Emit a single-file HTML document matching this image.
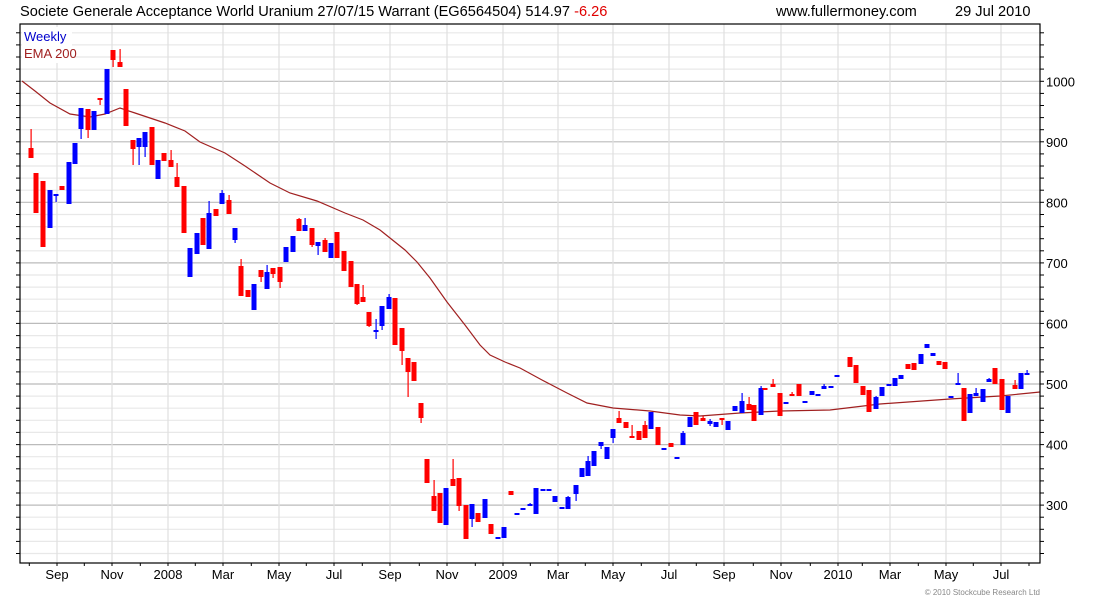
<!DOCTYPE html>
<html><head><meta charset="utf-8"><style>
body{margin:0;background:#fff;width:1100px;height:600px;overflow:hidden;font-family:"Liberation Sans",sans-serif}
</style></head><body>
<svg id="s" width="1100" height="600" xmlns="http://www.w3.org/2000/svg" font-family="Liberation Sans, sans-serif">
<text x="20" y="16" font-size="14.6" fill="#000">Societe Generale Acceptance World Uranium 27/07/15 Warrant (EG6564504) 514.97 <tspan fill="#e00000">-6.26</tspan></text>
<text x="776" y="16" font-size="14.6" fill="#000">www.fullermoney.com</text>
<text x="955" y="16" font-size="14.6" fill="#000">29 Jul 2010</text>
<text x="1040" y="595" font-size="8" fill="#888" text-anchor="end">© 2010 Stockcube Research Ltd</text>
<g id="g"></g>
</svg>
<script>
var g=document.getElementById('g'),h='';
function Y(v){return 384-(v-500)*0.6055;}
var L=20,R=1040,T=24,B=563;
for(var v=220;v<=1080;v+=20){var y=Y(v);if(y<T||y>B)continue;var maj=v%100==0;
h+='<line x1="'+L+'" x2="'+R+'" y1="'+y.toFixed(1)+'" y2="'+y.toFixed(1)+'" stroke="'+(maj?'#bbb':'#e8e8e8')+'" stroke-width="1.2"/>';
h+='<line x1="'+R+'" x2="'+(R+4)+'" y1="'+y.toFixed(1)+'" y2="'+y.toFixed(1)+'" stroke="#000"/>';
h+='<line x1="'+(L-4)+'" x2="'+L+'" y1="'+y.toFixed(1)+'" y2="'+y.toFixed(1)+'" stroke="#000"/>';
if(maj)h+='<text x="'+(R+6)+'" y="'+(y+5)+'" font-size="13">'+v+'</text>';}
var mx=[57,112,168,223,279,334,390,447,503,558,613,669,724,781,838,890,946,1001],ml=['Sep','Nov','2008','Mar','May','Jul','Sep','Nov','2009','Mar','May','Jul','Sep','Nov','2010','Mar','May','Jul'];
for(var i=0;i<mx.length;i++){h+='<line x1="'+mx[i]+'" x2="'+mx[i]+'" y1="'+T+'" y2="'+B+'" stroke="#e0e0e0" stroke-width="1.2"/>';
h+='<line x1="'+mx[i]+'" x2="'+mx[i]+'" y1="'+B+'" y2="'+(B+3)+'" stroke="#000"/>';
h+='<text x="'+mx[i]+'" y="'+(B+16)+'" font-size="13" text-anchor="middle">'+ml[i]+'</text>';
var m=mx[i]-27.7;if(m>L)h+='<line x1="'+m+'" x2="'+m+'" y1="'+B+'" y2="'+(B+3)+'" stroke="#000"/>';}
h+='<line x1="1029" x2="1029" y1="'+B+'" y2="'+(B+3)+'" stroke="#000"/>';
var e=[[22,81],[35,91],[50,103],[70,114],[90,117],[105,114],[120,108],[135,113],[150,118],[165,123],[185,131],[200,142],[225,153],[245,166],[270,183],[290,193],[317,201],[345,213],[363,220],[380,230],[390,238],[405,250],[417,262],[430,278],[447,302],[465,325],[480,345],[490,355],[505,362],[520,368],[542,380],[567,393],[587,403],[613,408],[650,411],[680,415],[700,416],[740,413],[780,411],[830,410],[880,404],[950,399],[1000,396],[1030,393],[1040,392]];
h+='<polyline fill="none" stroke="#a02020" stroke-width="1.2" points="'+e.map(function(p){return p.join(',')}).join(' ')+'"/>';
var c="31,148,158,129,0,r;36,173,213,0,0,r;43,181,247,0,0,r;50,190,228,0,0,b;56,194,196,0,202,b;62,186,190,0,0,r;69,162,204,0,0,b;75,143,164,0,0,b;81,108,129,0,139,b;88,109,130,0,138,r;94,111,130,0,0,b;100,98,100,0,105,r;107,69,114,0,0,b;113,50,60,0,67,r;120,62,67,49,0,r;126,89,126,0,0,r;133,140,149,0,165,r;139,138,147,0,165,b;145,132,147,0,157,b;152,127,165,0,0,r;158,160,179,0,0,b;164,153,161,0,0,r;171,160,167,150,0,r;177,177,187,163,0,r;184,186,233,0,0,r;190,248,277,0,0,b;197,233,254,0,0,b;203,218,245,0,0,r;209,213,249,201,0,b;216,209,216,0,0,r;222,193,204,190,0,b;229,200,214,195,0,r;235,228,240,0,243,b;241,266,296,259,0,r;248,290,297,0,0,r;254,284,310,0,0,b;261,270,277,0,282,r;267,272,289,265,0,b;273,268,274,0,278,r;280,267,282,0,288,r;286,247,262,0,0,b;293,236,252,0,0,b;299,219,231,218,0,r;305,225,231,218,0,b;312,228,245,0,247,r;318,242,246,0,255,b;325,240,252,238,0,r;331,243,258,0,0,b;337,232,258,0,0,r;344,251,271,0,0,r;351,261,287,0,0,r;357,284,304,0,305,r;363,297,302,285,0,r;369,312,326,0,327,r;376,330,332,319,339,b;382,306,326,0,330,b;389,297,309,294,0,b;395,298,345,0,0,r;402,328,351,0,365,r;408,358,372,0,397,r;414,362,381,0,0,r;421,403,418,0,423,r;427,459,483,0,0,r;434,496,511,480,0,r;440,493,523,493,0,r;446,488,525,0,0,b;453,479,486,459,0,r;459,478,506,0,511,r;466,505,539,0,0,r;472,504,519,0,527,b;478,513,522,0,0,r;485,499,518,0,0,b;491,524,534,0,0,r;498,537,539,0,0,b;504,527,538,0,0,b;511,491,495,0,0,r;517,513,515,0,0,b;523,508,510,0,0,b;530,504,506,503,0,b;536,488,514,0,0,b;543,489,491,0,0,b;549,489,491,0,0,b;555,496,502,0,0,b;562,507,509,0,0,b;568,497,509,496,0,b;576,485,494,0,501,b;582,468,477,0,0,b;588,461,476,456,0,b;594,451,466,0,0,b;601,442,446,0,449,b;607,447,459,0,0,b;613,429,438,0,443,b;619,418,423,411,0,r;626,422,428,0,0,r;632,436,438,425,0,r;639,431,440,0,0,r;645,425,438,421,0,r;651,412,429,0,0,b;658,427,445,0,0,r;664,448,450,0,0,b;671,443,447,0,0,r;677,457,459,0,0,b;683,433,445,431,0,b;690,417,427,0,0,b;696,412,425,0,0,r;703,418,421,416,0,r;710,421,424,419,426,b;716,422,427,0,0,b;722,418,420,0,425,r;728,421,430,0,0,b;735,406,411,0,0,b;742,401,413,393,0,b;749,404,410,397,0,r;754,405,421,0,0,r;761,388,415,386,0,b;765,388,390,0,0,r;773,384,387,379,0,r;780,393,416,0,0,r;786,402,404,0,0,b;792,394,396,392,0,r;799,384,396,0,0,r;805,401,403,0,0,b;812,391,395,0,0,b;818,394,396,0,0,b;824,386,389,384,0,b;831,386,388,0,0,b;837,375,377,0,0,b;850,357,367,0,0,r;856,365,383,0,0,r;863,386,395,0,0,r;869,390,412,0,0,r;876,397,409,396,0,b;882,387,396,0,0,b;889,384,386,0,0,b;895,378,386,0,0,b;901,375,379,0,0,b;908,364,369,0,0,r;914,363,370,0,0,r;921,354,364,0,0,b;927,344,348,0,0,b;933,353,356,0,0,b;939,361,365,0,0,r;945,362,369,0,0,r;951,396,397,0,0,b;958,383,385,373,0,b;964,388,421,0,0,r;970,394,413,0,0,b;976,393,396,388,0,b;983,389,402,0,0,b;989,379,382,378,0,b;995,368,384,0,0,r;1002,379,410,0,0,r;1008,396,413,0,0,b;1015,385,389,380,0,r;1021,373,389,0,0,b;1027,373,375,370,0,b".split(';');
c.forEach(function(s){var a=s.split(','),x=+a[0],t=+a[1],b=+a[2],wt=+a[3]||t,wb=+a[4]||b,col=a[5]=='r'?'#ff0000':'#0000ff';
h+='<rect x="'+(x-0.5)+'" y="'+wt+'" width="1.2" height="'+(wb-wt)+'" fill="'+col+'"/>';
h+='<rect x="'+(x-2.5)+'" y="'+t+'" width="5" height="'+Math.max(2,b-t)+'" fill="'+col+'"/>';});
h+='<rect x="'+L+'" y="'+T+'" width="'+(R-L)+'" height="'+(B-T)+'" fill="none" stroke="#000" stroke-width="1.2"/>';
h+='<rect x="22" y="27" width="50" height="36" fill="#fff"/>';
h+='<text x="24" y="41" font-size="13" fill="#0000cc">Weekly</text><text x="24" y="58" font-size="13" fill="#a02020">EMA 200</text>';
g.innerHTML=h;
</script>
</body></html>
